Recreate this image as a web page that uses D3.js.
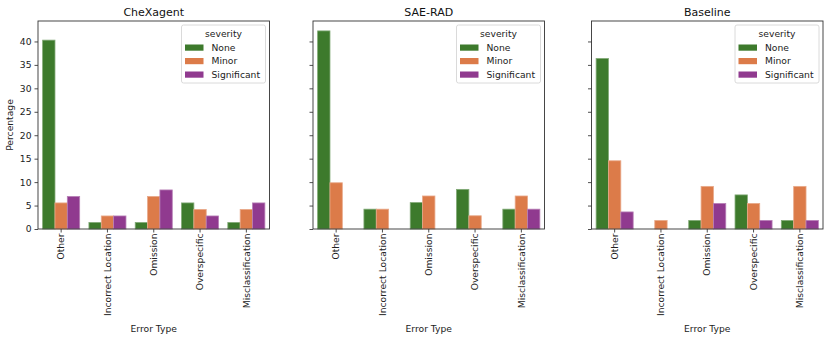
<!DOCTYPE html>
<html>
<head>
<meta charset="utf-8">
<script src="https://cdn.jsdelivr.net/npm/d3@7"></script>
<style>
  body { margin: 0; background: #fff; }
  svg { display: block; font-family: "DejaVu Sans", sans-serif; }
</style>
</head>
<body>
<svg id="chart" width="830" height="340"></svg>
<script>
const categories = ["Other", "Incorrect Location", "Omission", "Overspecific", "Misclassification"];
const severities = ["None", "Minor", "Significant"];
const panelTitles = ["CheXagent", "SAE-RAD", "Baseline"];
const yTicks = [0, 5, 10, 15, 20, 25, 30, 35, 40];

const chexagentNone = [40.28, 1.39, 1.39, 5.56, 1.39];
const chexagentMinor = [5.56, 2.78, 6.94, 4.17, 4.17];
const chexagentSignificant = [6.94, 2.78, 8.33, 2.78, 5.56];

const saeradNone = [42.25, 4.23, 5.63, 8.45, 4.23];
const saeradMinor = [9.86, 4.23, 7.04, 2.82, 7.04];
const saeradSignificant = [0, 0, 0, 0, 4.23];

const baselineNone = [36.36, 0, 1.82, 7.27, 1.82];
const baselineMinor = [14.55, 1.82, 9.09, 5.45, 9.09];
const baselineSignificant = [3.64, 0, 5.45, 1.82, 1.82];

const colors = ["#3d7a2c", "#dc7b49", "#903a8f"];

const panelData = [
  [chexagentNone, chexagentMinor, chexagentSignificant],
  [saeradNone, saeradMinor, saeradSignificant],
  [baselineNone, baselineMinor, baselineSignificant]
];

const svg = d3.select("#chart");
const plotTop = 21, plotBottom = 229, pw = 231.5;
const lefts = [38, 313, 591.5];
const yMax = d3.max(panelData.flat(2)) * 1.05;
const y = d3.scaleLinear().domain([0, yMax]).range([plotBottom, plotTop]);
const fs = 9.2;

panelData.forEach((series, pi) => {
  const x0 = lefts[pi];
  const g = svg.append("g");
  const x = d3.scaleBand().domain(categories).range([x0, x0 + pw]).paddingInner(0).paddingOuter(0);
  const inner = d3.scaleBand().domain(severities).range([0, x.bandwidth() * 0.8]);

  severities.forEach((s, si) => {
    const edge = d3.interpolateRgb(colors[si], "#ffffff")(0.35);
    g.selectAll(null).data(categories.map((cat, ci) => ({cat, v: series[si][ci]})).filter(d => d.v > 0))
      .join("rect")
      .attr("x", d => x(d.cat) + x.bandwidth() * 0.1 + inner(s))
      .attr("y", d => y(d.v))
      .attr("width", inner.bandwidth())
      .attr("height", d => y(0) - y(d.v))
      .attr("fill", colors[si])
      .attr("stroke", edge)
      .attr("stroke-width", 0.8);
  });

  const yAxis = d3.axisLeft(y).tickValues(yTicks).tickSize(3.5).tickPadding(3);
  if (pi > 0) yAxis.tickFormat("");
  const ya = g.append("g").attr("transform", `translate(${x0},0)`).call(yAxis);
  ya.select(".domain").remove();
  ya.selectAll("line").attr("stroke", "#222").attr("stroke-width", 0.8);
  ya.selectAll("text").attr("font-size", fs).attr("fill", "#222").attr("font-family", "DejaVu Sans");

  const xAxis = d3.axisBottom(x).tickSize(3.5).tickPadding(2.5);
  const xa = g.append("g").attr("transform", `translate(0,${plotBottom})`).call(xAxis);
  xa.select(".domain").remove();
  xa.selectAll("line").attr("stroke", "#222").attr("stroke-width", 0.8);
  xa.selectAll("text")
    .attr("font-size", fs).attr("fill", "#222").attr("font-family", "DejaVu Sans")
    .attr("text-anchor", "end")
    .attr("dy", "0.35em")
    .attr("transform", "translate(0,4.5) rotate(-90)")
    .attr("x", 0).attr("y", 0);

  g.append("rect").attr("x", x0).attr("y", plotTop).attr("width", pw).attr("height", plotBottom - plotTop)
    .attr("fill", "none").attr("stroke", "#333").attr("stroke-width", 0.9);

  g.append("text").attr("x", x0 + pw / 2).attr("y", 16).attr("text-anchor", "middle")
    .attr("font-size", 11).attr("fill", "#111").text(panelTitles[pi]);

  g.append("text").attr("x", x0 + pw / 2).attr("y", 331.5).attr("text-anchor", "middle")
    .attr("font-size", fs).attr("fill", "#222").text("Error Type");

  const lw = 84, lh = 58;
  const lx = x0 + pw - 4 - lw, ly = plotTop + 4;
  const leg = g.append("g").attr("transform", `translate(${lx},${ly})`);
  leg.append("rect").attr("width", lw).attr("height", lh).attr("rx", 2)
    .attr("fill", "rgba(255,255,255,0.8)").attr("stroke", "#d0d0d0").attr("stroke-width", 0.8);
  leg.append("text").attr("x", lw / 2).attr("y", 11.5).attr("text-anchor", "middle")
    .attr("font-size", fs).attr("fill", "#222").text("severity");
  severities.forEach((s, si) => {
    const cy = 22.5 + si * 13.5;
    leg.append("rect").attr("x", 3.5).attr("y", cy - 3).attr("width", 18.5).attr("height", 6.2)
      .attr("fill", colors[si]);
    leg.append("text").attr("x", 30).attr("y", cy + 3.3).attr("font-size", fs).attr("fill", "#222").text(s);
  });
});

svg.append("text").attr("transform", `translate(13,${(plotTop + plotBottom) / 2}) rotate(-90)`)
  .attr("text-anchor", "middle").attr("font-size", fs).attr("fill", "#222").text("Percentage");
</script>
</body>
</html>
